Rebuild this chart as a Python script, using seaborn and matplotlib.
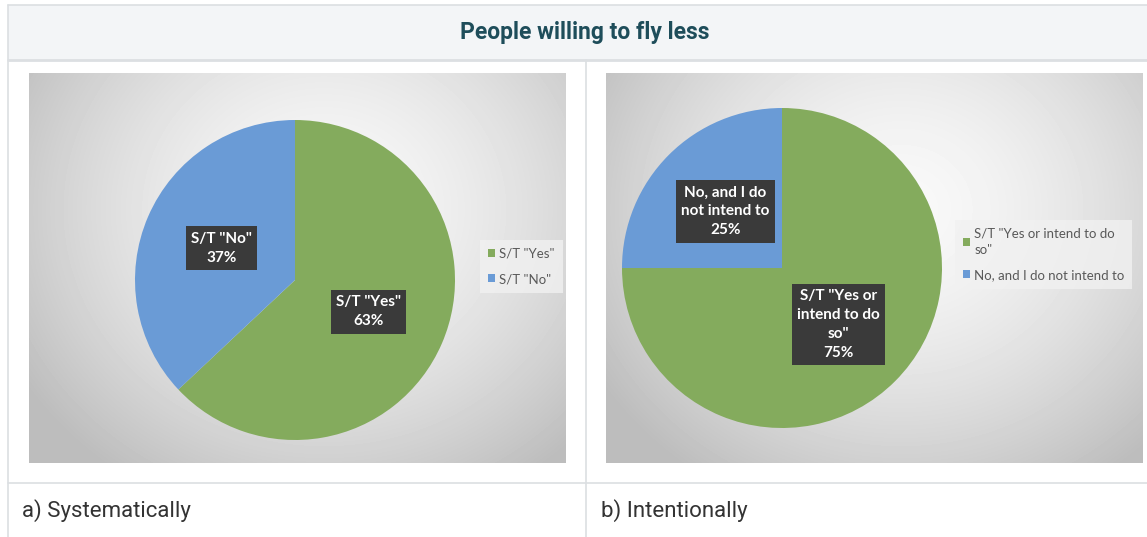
import numpy as np
import matplotlib
matplotlib.use("Agg")
import matplotlib.pyplot as plt
import seaborn as sns

sns.set_theme(style="white")
plt.rcParams['font.family'] = ['Lato', 'DejaVu Sans']

# ---- data -------------------------------------------------------------
title = "People willing to fly less"

sys_labels = ['S/T "Yes"', 'S/T "No"']
sys_values = [63, 37]
sys_caption = "a) Systematically"

int_labels = ['S/T "Yes or intend to do so"', 'No, and I do not intend to']
int_box_text = ['S/T "Yes or\nintend to do\nso"', 'No, and I do\nnot intend to']
int_legend_text = ['S/T "Yes or intend to do\nso"', 'No, and I do not intend to']
int_values = [75, 25]
int_caption = "b) Intentionally"

pie_colors = ["#84ab5d", "#6a9bd6"]

# ---- canvas -----------------------------------------------------------
W, H = 1147, 537
fig = plt.figure(figsize=(W / 100, H / 100), dpi=100)
fig.patch.set_facecolor("white")

base = fig.add_axes([0, 0, 1, 1])
base.set_xlim(0, W)
base.set_ylim(H, 0)
base.axis("off")

line_c = "#dcdfe2"
# header band of the table
base.add_patch(plt.Rectangle((8, 5), W + 20, 55, fc="#f3f5f7", ec="none", zorder=0))
base.plot([8, W + 20], [5, 5], color=line_c, lw=1.2)
base.plot([8, W + 20], [60, 60], color=line_c, lw=2)
base.plot([8, 8], [5, H], color=line_c, lw=1.2)
base.plot([586, 586], [60, H], color=line_c, lw=1.2)
base.plot([8, W + 20], [483, 483], color=line_c, lw=1.2)

base.text(585, 33, title, ha="center", va="center", fontsize=16.5,
          fontweight="bold", color="#1e4d5a", family=["Roboto", "DejaVu Sans"])
base.text(22, 511, sys_caption, ha="left", va="center", fontsize=16,
          color="#333333", family=["Roboto", "DejaVu Sans"])
base.text(601, 511, int_caption, ha="left", va="center", fontsize=16,
          color="#333333", family=["Roboto", "DejaVu Sans"])


def panel(x0, x1, y0, y1, cx, cy, r, values, box_text, legend_text,
          legend_anchor, label_size):
    ax = fig.add_axes([x0 / W, 1 - y1 / H, (x1 - x0) / W, (y1 - y0) / H])
    # soft radial backdrop
    w, h = x1 - x0, y1 - y0
    xx, yy = np.meshgrid(np.linspace(0, 1, w), np.linspace(0, 1, h))
    d = np.sqrt(((xx - 0.55) / 0.6) ** 2 + ((yy - 0.35) / 0.75) ** 2)
    grad = np.clip(0.975 - 0.2 * d ** 1.6, 0.74, 1)
    ax.imshow(grad, extent=(x0, x1, H - y1, H - y0), cmap="gray",
              vmin=0, vmax=1, aspect="auto", zorder=0, interpolation="bilinear")

    wedges, _ = ax.pie(values, colors=pie_colors, startangle=90,
                       counterclock=False, center=(cx, H - cy), radius=r,
                       wedgeprops=dict(linewidth=0, zorder=2), frame=True)
    for wdg, txt, v in zip(wedges, box_text, values):
        mid = np.deg2rad((wdg.theta1 + wdg.theta2) / 2)
        tx = cx + 0.5 * r * np.cos(mid)
        ty = (H - cy) + 0.5 * r * np.sin(mid)
        ax.text(tx, ty, f"{txt}\n{v}%", ha="center", va="center",
                fontsize=label_size, fontweight="bold", color="white",
                linespacing=1.45, zorder=4,
                bbox=dict(boxstyle="square,pad=0.35", fc="#3a3a3a", ec="none"))

    leg = ax.legend(wedges, legend_text, loc="upper left",
                    bbox_to_anchor=legend_anchor, bbox_transform=ax.transData,
                    frameon=True, fontsize=9.5, handlelength=0.55,
                    handleheight=0.55, handletextpad=0.3, labelspacing=1.0,
                    borderpad=0.6, borderaxespad=0, fancybox=False)
    leg.get_frame().set_facecolor("#f1f1f1")
    leg.get_frame().set_edgecolor("none")
    leg.get_frame().set_alpha(0.8)
    for t in leg.get_texts():
        t.set_color("#595959")
        t.set_linespacing(1.4)

    ax.set_aspect("auto")
    ax.set_xlim(x0, x1)
    ax.set_ylim(H - y1, H - y0)
    ax.set_xticks([])
    ax.set_yticks([])
    for s in ax.spines.values():
        s.set_visible(False)
    return ax


panel(29, 566, 73, 463, 295, 280, 160, sys_values,
      sys_labels, sys_labels, (480, H - 240), 11)
panel(606, 1143, 73, 463, 782, 268, 160, int_values,
      int_box_text, int_legend_text, (955, H - 220), 11)

fig.savefig("out.png", dpi=100, facecolor="white")
